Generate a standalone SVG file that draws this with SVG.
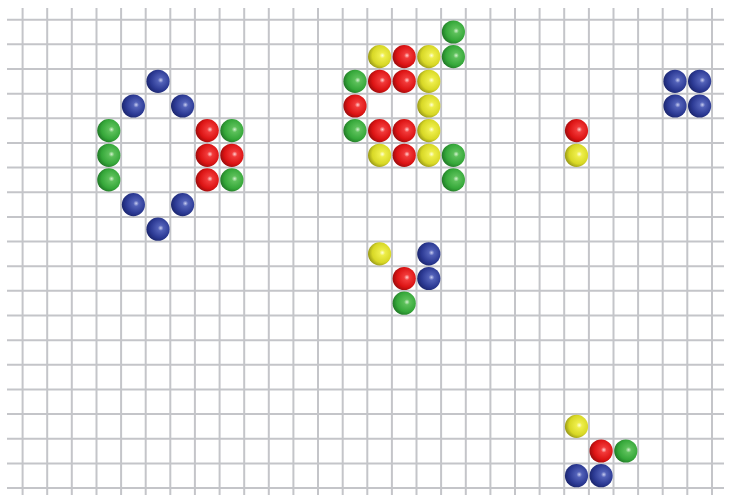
<svg xmlns="http://www.w3.org/2000/svg" xmlns:xlink="http://www.w3.org/1999/xlink" width="729" height="495" viewBox="0 0 729 495">
<style>
.grid line{stroke:#c4c5c9;stroke-width:2}
.b{fill:url(#gb)}.r{fill:url(#gr)}.g{fill:url(#gg)}.y{fill:url(#gy)}
</style>
<defs>
<radialGradient id="gb" cx="0.6" cy="0.45" r="0.6" fx="0.62" fy="0.45">
<stop offset="0" stop-color="#c8cdf0"/><stop offset="0.2" stop-color="#5261b8"/><stop offset="0.7" stop-color="#2c3a94"/><stop offset="1" stop-color="#1c2770"/>
</radialGradient>
<radialGradient id="gr" cx="0.6" cy="0.45" r="0.6" fx="0.62" fy="0.45">
<stop offset="0" stop-color="#ffd0d0"/><stop offset="0.2" stop-color="#f23a3a"/><stop offset="0.7" stop-color="#dc1414"/><stop offset="1" stop-color="#9e0c0c"/>
</radialGradient>
<radialGradient id="gg" cx="0.6" cy="0.45" r="0.6" fx="0.62" fy="0.45">
<stop offset="0" stop-color="#d4f2cf"/><stop offset="0.2" stop-color="#5cc05a"/><stop offset="0.7" stop-color="#36a83a"/><stop offset="1" stop-color="#217a27"/>
</radialGradient>
<radialGradient id="gy" cx="0.6" cy="0.45" r="0.6" fx="0.62" fy="0.45">
<stop offset="0" stop-color="#ffffd8"/><stop offset="0.2" stop-color="#eeee4a"/><stop offset="0.7" stop-color="#d8d826"/><stop offset="1" stop-color="#9a9a18"/>
</radialGradient>
</defs>
<rect width="729" height="495" fill="#ffffff"/>
<g class="grid">
<line x1="22.6" y1="8" x2="22.6" y2="495"/><line x1="47.2" y1="8" x2="47.2" y2="495"/><line x1="71.8" y1="8" x2="71.8" y2="495"/><line x1="96.5" y1="8" x2="96.5" y2="495"/><line x1="121.1" y1="8" x2="121.1" y2="495"/><line x1="145.7" y1="8" x2="145.7" y2="495"/><line x1="170.3" y1="8" x2="170.3" y2="495"/><line x1="194.9" y1="8" x2="194.9" y2="495"/><line x1="219.6" y1="8" x2="219.6" y2="495"/><line x1="244.2" y1="8" x2="244.2" y2="495"/><line x1="268.8" y1="8" x2="268.8" y2="495"/><line x1="293.4" y1="8" x2="293.4" y2="495"/><line x1="318" y1="8" x2="318" y2="495"/><line x1="342.7" y1="8" x2="342.7" y2="495"/><line x1="367.3" y1="8" x2="367.3" y2="495"/><line x1="391.9" y1="8" x2="391.9" y2="495"/><line x1="416.5" y1="8" x2="416.5" y2="495"/><line x1="441.1" y1="8" x2="441.1" y2="495"/><line x1="465.8" y1="8" x2="465.8" y2="495"/><line x1="490.4" y1="8" x2="490.4" y2="495"/><line x1="515" y1="8" x2="515" y2="495"/><line x1="539.6" y1="8" x2="539.6" y2="495"/><line x1="564.2" y1="8" x2="564.2" y2="495"/><line x1="588.9" y1="8" x2="588.9" y2="495"/><line x1="613.5" y1="8" x2="613.5" y2="495"/><line x1="638.1" y1="8" x2="638.1" y2="495"/><line x1="662.7" y1="8" x2="662.7" y2="495"/><line x1="687.3" y1="8" x2="687.3" y2="495"/><line x1="712" y1="8" x2="712" y2="495"/>
<line x1="7" y1="19.7" x2="724" y2="19.7"/><line x1="7" y1="44.35" x2="724" y2="44.35"/><line x1="7" y1="69" x2="724" y2="69"/><line x1="7" y1="93.65" x2="724" y2="93.65"/><line x1="7" y1="118.3" x2="724" y2="118.3"/><line x1="7" y1="142.95" x2="724" y2="142.95"/><line x1="7" y1="167.6" x2="724" y2="167.6"/><line x1="7" y1="192.25" x2="724" y2="192.25"/><line x1="7" y1="216.9" x2="724" y2="216.9"/><line x1="7" y1="241.55" x2="724" y2="241.55"/><line x1="7" y1="266.2" x2="724" y2="266.2"/><line x1="7" y1="290.85" x2="724" y2="290.85"/><line x1="7" y1="315.5" x2="724" y2="315.5"/><line x1="7" y1="340.15" x2="724" y2="340.15"/><line x1="7" y1="364.8" x2="724" y2="364.8"/><line x1="7" y1="389.45" x2="724" y2="389.45"/><line x1="7" y1="414.1" x2="724" y2="414.1"/><line x1="7" y1="438.75" x2="724" y2="438.75"/><line x1="7" y1="463.4" x2="724" y2="463.4"/><line x1="7" y1="488.05" x2="724" y2="488.05"/>
</g>
<g id="cluster-left">
<circle class="b" cx="158" cy="81.3" r="11.6"/>
<circle class="b" cx="133.4" cy="106" r="11.6"/><circle class="b" cx="182.6" cy="106" r="11.6"/>
<circle class="g" cx="108.8" cy="130.6" r="11.6"/><circle class="g" cx="108.8" cy="155.3" r="11.6"/><circle class="g" cx="108.8" cy="179.9" r="11.6"/>
<circle class="r" cx="207.2" cy="130.6" r="11.6"/><circle class="g" cx="231.9" cy="130.6" r="11.6"/>
<circle class="r" cx="207.2" cy="155.3" r="11.6"/><circle class="r" cx="231.9" cy="155.3" r="11.6"/>
<circle class="r" cx="207.2" cy="179.9" r="11.6"/><circle class="g" cx="231.9" cy="179.9" r="11.6"/>
<circle class="b" cx="133.4" cy="204.6" r="11.6"/><circle class="b" cx="182.6" cy="204.6" r="11.6"/>
<circle class="b" cx="158" cy="229.2" r="11.6"/>
</g>
<g id="cluster-middle">
<circle class="g" cx="453.4" cy="32" r="11.6"/>
<circle class="y" cx="379.6" cy="56.65" r="11.6"/><circle class="r" cx="404.2" cy="56.65" r="11.6"/><circle class="y" cx="428.8" cy="56.65" r="11.6"/><circle class="g" cx="453.4" cy="56.65" r="11.6"/>
<circle class="g" cx="355" cy="81.3" r="11.6"/><circle class="r" cx="379.6" cy="81.3" r="11.6"/><circle class="r" cx="404.2" cy="81.3" r="11.6"/><circle class="y" cx="428.8" cy="81.3" r="11.6"/>
<circle class="r" cx="355" cy="106" r="11.6"/><circle class="y" cx="428.8" cy="106" r="11.6"/>
<circle class="g" cx="355" cy="130.6" r="11.6"/><circle class="r" cx="379.6" cy="130.6" r="11.6"/><circle class="r" cx="404.2" cy="130.6" r="11.6"/><circle class="y" cx="428.8" cy="130.6" r="11.6"/>
<circle class="y" cx="379.6" cy="155.3" r="11.6"/><circle class="r" cx="404.2" cy="155.3" r="11.6"/><circle class="y" cx="428.8" cy="155.3" r="11.6"/><circle class="g" cx="453.4" cy="155.3" r="11.6"/>
<circle class="g" cx="453.4" cy="179.9" r="11.6"/>
</g>
<g id="cluster-right">
<circle class="b" cx="675" cy="81.3" r="11.6"/><circle class="b" cx="699.6" cy="81.3" r="11.6"/>
<circle class="b" cx="675" cy="106" r="11.6"/><circle class="b" cx="699.6" cy="106" r="11.6"/>
<circle class="r" cx="576.5" cy="130.6" r="11.6"/><circle class="y" cx="576.5" cy="155.3" r="11.6"/>
</g>
<g id="cluster-center">
<circle class="y" cx="379.6" cy="253.9" r="11.6"/><circle class="b" cx="428.8" cy="253.9" r="11.6"/>
<circle class="r" cx="404.2" cy="278.5" r="11.6"/><circle class="b" cx="428.8" cy="278.5" r="11.6"/>
<circle class="g" cx="404.2" cy="303.2" r="11.6"/>
</g>
<g id="cluster-bottom">
<circle class="y" cx="576.5" cy="426.4" r="11.6"/>
<circle class="r" cx="601.1" cy="451" r="11.6"/><circle class="g" cx="625.8" cy="451" r="11.6"/>
<circle class="b" cx="576.5" cy="475.7" r="11.6"/><circle class="b" cx="601.1" cy="475.7" r="11.6"/>
</g>
</svg>
